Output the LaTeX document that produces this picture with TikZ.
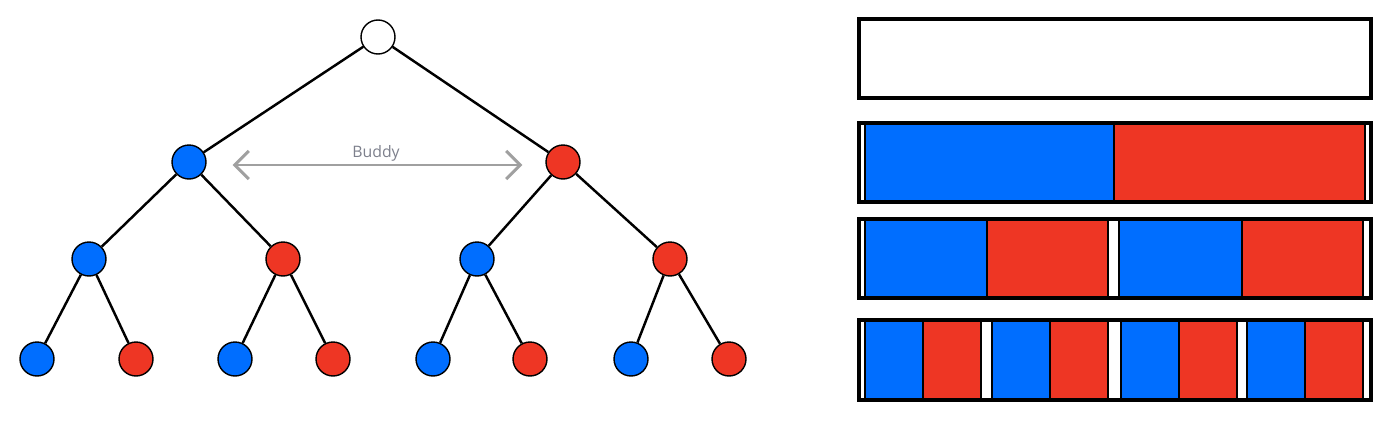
\documentclass[tikz,border=0pt]{standalone}
\usepackage{fontspec}
\setmainfont{Open Sans}
\usetikzlibrary{arrows.meta}
\definecolor{bblue}{RGB}{0,110,255}
\definecolor{rred}{RGB}{238,54,36}
\definecolor{buddygray}{RGB}{160,160,160}
\definecolor{labelgray}{RGB}{125,128,140}
\tikzset{
treenode/.style={ % circles of the tree
circle, draw, line width=0.8pt,
inner sep=0pt, minimum size=0.68cm},
rootnode/.style={treenode, fill=white},
bluenode/.style={treenode, fill=bblue},
rednode/.style={treenode, fill=rred},
treeedge/.style={draw, line width=1.4pt}, % lines between circles
buddy/.style={ % double arrow between siblings
buddygray, line width=1.7pt,
{Straight Barb[length=8pt,width=16pt]}-{Straight Barb[length=8pt,width=16pt]}},
bar/.style={draw, line width=2pt},
blueblock/.style={fill=bblue, draw, line width=1.2pt},
redblock/.style={fill=rred, draw, line width=1.2pt}}

\begin{document}
\begin{tikzpicture}[x=0.02cm, y=-0.02cm]
	\useasboundingbox (0,0) rectangle (1392,426);
	% tree
	\node[rootnode] (t0) at (378,37) {};
	\node[bluenode] (t1) at (189,162) {};
	\node[rednode] (t2) at (563,162) {};
	\node[bluenode] (t3) at (89,259) {};
	\node[rednode] (t4) at (283,259) {};
	\node[bluenode] (t5) at (477,259) {};
	\node[rednode] (t6) at (670,259) {};
	\node[bluenode] (t7) at (37,359) {};
	\node[rednode] (t8) at (136,359) {};
	\node[bluenode] (t9) at (235,359) {};
	\node[rednode] (t10) at (333,359) {};
	\node[bluenode] (t11) at (433,359) {};
	\node[rednode] (t12) at (530,359) {};
	\node[bluenode] (t13) at (631,359) {};
	\node[rednode] (t14) at (729,359) {};
	\draw[treeedge] (t0) -- (t1);
	\draw[treeedge] (t0) -- (t2);
	\draw[treeedge] (t1) -- (t3);
	\draw[treeedge] (t1) -- (t4);
	\draw[treeedge] (t2) -- (t5);
	\draw[treeedge] (t2) -- (t6);
	\draw[treeedge] (t3) -- (t7);
	\draw[treeedge] (t3) -- (t8);
	\draw[treeedge] (t4) -- (t9);
	\draw[treeedge] (t4) -- (t10);
	\draw[treeedge] (t5) -- (t11);
	\draw[treeedge] (t5) -- (t12);
	\draw[treeedge] (t6) -- (t13);
	\draw[treeedge] (t6) -- (t14);
	\draw[buddy, shorten <=0.52cm, shorten >=0.46cm] ([yshift=-0.06cm]t1.east) -- node[above=-2pt, labelgray, font=\fontsize{9}{10}\selectfont]{Buddy} ([yshift=-0.06cm]t2.west);
	% memory bars
	\draw[bar] (859,19) rectangle (1371,98);
	\filldraw[blueblock] (865,123) rectangle (1114,202);
	\filldraw[redblock] (1114,123) rectangle (1365,202);
	\draw[bar] (859,123) rectangle (1371,202);
	\filldraw[blueblock] (865,219) rectangle (987,298);
	\filldraw[redblock] (987,219) rectangle (1108,298);
	\filldraw[blueblock] (1119,219) rectangle (1242,298);
	\filldraw[redblock] (1242,219) rectangle (1363,298);
	\draw[bar] (859,219) rectangle (1371,298);
	\foreach \x in {865,992,1121,1247}{
		\filldraw[blueblock] (\x,320) rectangle ++(58,80);
		\filldraw[redblock] (\x+58,320) rectangle ++(58,80);
	}
	\draw[bar] (859,320) rectangle (1371,400);
\end{tikzpicture}
\end{document}
